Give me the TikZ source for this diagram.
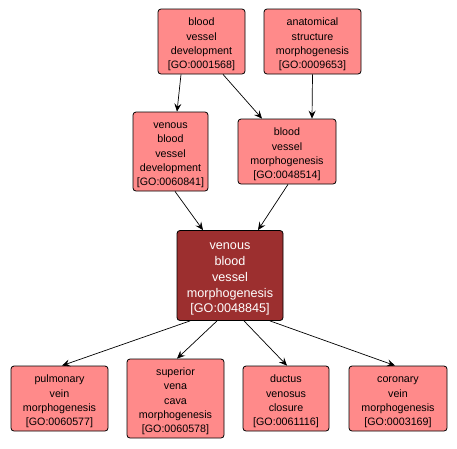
\documentclass[tikz,border=0pt]{standalone}
\usepackage{fontspec}
\setmainfont{Liberation Sans}
\usetikzlibrary{arrows.meta}
\definecolor{boxfill}{HTML}{FF8A8A}
\definecolor{focusfill}{HTML}{9C2F2F}
\newcommand\gotop{\rule{0pt}{14.5pt}}
\newcommand\gobot{\rule[-3pt]{0pt}{3pt}}
\tikzset{
  term/.style={draw=black, line width=0.8pt, rounded corners=3pt, fill=boxfill,
    align=center, inner sep=0pt, font=\fontsize{10.7}{14.3}\selectfont},
  focus/.style={term, fill=focusfill, text=white, font=\fontsize{12.6}{15.8}\selectfont},
  isa/.style={draw=black, line width=0.7pt, -{Stealth[length=8pt,width=7pt,inset=3pt]}}
}
\begin{document}
\begin{tikzpicture}[x=1pt,y=-1pt]
\useasboundingbox (0,0) rectangle (457,448);
\node[term, minimum width=87pt, minimum height=65pt] (bvd) at (201.5,41.5) {\gotop blood\\vessel\\development\\{}[GO:0001568]\gobot};
\node[term, minimum width=97pt, minimum height=65pt] (asm) at (312.5,41.5) {\gotop anatomical\\structure\\morphogenesis\\{}[GO:0009653]\gobot};
\node[term, minimum width=75pt, minimum height=79pt] (vbvd) at (170.5,151.5) {\gotop venous\\blood\\vessel\\development\\{}[GO:0060841]\gobot};
\node[term, minimum width=98pt, minimum height=65pt] (bvm) at (287,151.5) {\gotop blood\\vessel\\morphogenesis\\{}[GO:0048514]\gobot};
\node[focus, minimum width=106pt, minimum height=90pt] (vbvm) at (230,275.5) {\gotop venous\\blood\\vessel\\morphogenesis\\{}[GO:0048845]\gobot};
\node[term, minimum width=97pt, minimum height=65pt] (pvm) at (59.5,398.5) {\gotop pulmonary\\vein\\morphogenesis\\{}[GO:0060577]\gobot};
\node[term, minimum width=97pt, minimum height=79pt] (svc) at (175.5,398.5) {\gotop superior\\vena\\cava\\morphogenesis\\{}[GO:0060578]\gobot};
\node[term, minimum width=86pt, minimum height=65pt] (dvc) at (286,398.5) {\gotop ductus\\venosus\\closure\\{}[GO:0061116]\gobot};
\node[term, minimum width=98pt, minimum height=65pt] (cvm) at (398,398.5) {\gotop coronary\\vein\\morphogenesis\\{}[GO:0003169]\gobot};
\draw[isa] ([xshift=-20.5pt]bvd.south) -- ([xshift=6.5pt]vbvd.north);
\draw[isa] ([xshift=21.5pt]bvd.south) -- ([xshift=-25pt]bvm.north);
\draw[isa] (asm.south) -- ([xshift=25pt]bvm.north);
\draw[isa] ([xshift=4.5pt]vbvd.south) -- ([xshift=-27pt]vbvm.north);
\draw[isa] ([xshift=1pt]bvm.south) -- ([xshift=28pt]vbvm.north);
\draw[isa] ([xshift=-40pt]vbvm.south) -- ([xshift=2.5pt]pvm.north);
\draw[isa] ([xshift=-13pt]vbvm.south) -- ([xshift=1.5pt]svc.north);
\draw[isa] ([xshift=14pt]vbvm.south) -- ([xshift=1pt]dvc.north);
\draw[isa] ([xshift=40pt]vbvm.south) -- ([xshift=-3pt]cvm.north);
\end{tikzpicture}
\end{document}
